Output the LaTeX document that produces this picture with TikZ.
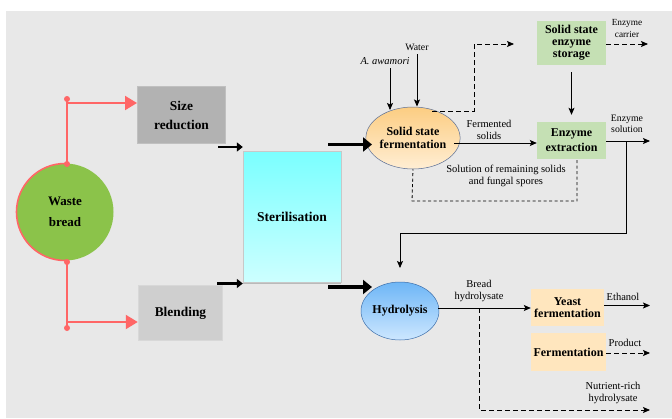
\documentclass[tikz,border=0pt]{standalone}
\usepackage{fontspec}
\setmainfont{Liberation Serif}
\newfontfamily\tnr{Liberation Serif}
\usetikzlibrary{arrows.meta,shapes.geometric,shadows}
\definecolor{bg}{RGB}{232,232,232}
\definecolor{redl}{RGB}{255,102,102}
\definecolor{greenc}{RGB}{139,195,74}
\definecolor{grayA}{RGB}{178,178,178}
\definecolor{grayB}{RGB}{207,207,207}
\definecolor{greenbox}{RGB}{197,224,180}
\definecolor{peach}{RGB}{255,230,190}
\tikzset{
  every node/.append style={font=\tnr},
  bx/.style={rectangle, align=center, inner sep=0pt, font=\tnr\bfseries\fontsize{12}{12.5}\selectfont},
  lbl/.style={align=center, inner sep=0pt, font=\tnr\fontsize{10.5}{12}\selectfont},
  slbl/.style={align=center, inner sep=0pt, font=\tnr\fontsize{9.8}{11.5}\selectfont},
  redarr/.style={draw=redl, line width=2pt, -{Triangle[length=12pt,width=14pt]}},
  reddot/.style={circle, fill=redl, inner sep=0pt, minimum size=6pt},
  arr/.style={draw=black, line width=0.8pt, -{Stealth[length=7pt,width=6pt,inset=1.5pt]}},
  darr/.style={arr, dashed, dash pattern=on 5pt off 3pt},
  medarr/.style={draw=black, line width=2.4pt, -{Triangle[length=6pt,width=9pt]}},
  bigarr/.style={draw=black, line width=3.6pt, -{Triangle[length=9pt,width=14pt]}},
}
\begin{document}
\begin{tikzpicture}[x=1pt,y=-1pt]
\useasboundingbox (0,0) rectangle (672,418);
\fill[white] (0,0) rectangle (672,418);
\fill[bg] (6,11) rectangle (672,418);

% nodes
\node[circle, fill=greenc, minimum size=97pt, inner sep=0pt, align=center,
      font=\tnr\bfseries\fontsize{13}{21}\selectfont] (wb) at (65,212) {Waste\\bread};
\begin{scope}
  \clip (10,150) rectangle (66,280);
  \draw[redl, line width=1.6pt] (65,212) circle[radius=48.5pt];
\end{scope}

\node[bx, fill=grayA, draw={rgb,255:red,192;green,192;blue,192}, line width=1pt,
      minimum width=88pt, minimum height=57pt, font=\tnr\bfseries\fontsize{13.4}{19}\selectfont]
      (sr) at (181.5,115) {Size\\reduction};
\node[bx, fill=grayB, draw={rgb,255:red,216;green,216;blue,216}, line width=1.5pt,
      minimum width=84pt, minimum height=55pt, font=\tnr\bfseries\fontsize{13.4}{16}\selectfont]
      (bl) at (180.5,313) {Blending};
\node[bx, top color={rgb,255:red,122;green,255;blue,255}, bottom color={rgb,255:red,205;green,255;blue,255},
      draw={rgb,255:red,200;green,200;blue,200}, line width=0.4pt,
      drop shadow={opacity=0.45, shadow xshift=0.3pt, shadow yshift=-1.5pt},
      minimum width=98pt, minimum height=131pt, font=\tnr\bfseries\fontsize{13.5}{16}\selectfont]
      (st) at (292,216.5) {Sterilisation};

\node[ellipse, draw={rgb,255:red,90;green,110;blue,150}, line width=0.5pt,
      top color={rgb,255:red,252;green,205;blue,130}, bottom color={rgb,255:red,255;green,238;blue,212},
      minimum width=82pt, minimum height=62pt, inner sep=0pt, align=center,
      font=\tnr\bfseries\fontsize{12}{12.5}\selectfont] (ssf) at (413,138) {Solid state\\fermentation};
\node[ellipse, draw={rgb,255:red,60;green,110;blue,170}, line width=0.5pt,
      top color={rgb,255:red,110;green,182;blue,246}, bottom color={rgb,255:red,205;green,231;blue,255},
      minimum width=76pt, minimum height=58pt, inner sep=0pt, align=center,
      font=\tnr\bfseries\fontsize{12}{12.5}\selectfont] (hy) at (400,311) {Hydrolysis};

\node[bx, fill=greenbox, minimum width=69pt, minimum height=44pt,
      font=\tnr\bfseries\fontsize{12}{12}\selectfont] (sses) at (571.5,43) {Solid state\\enzyme\\storage};
\node[bx, fill=greenbox, minimum width=69pt, minimum height=37pt,
      font=\tnr\bfseries\fontsize{12}{15}\selectfont] (ee) at (571.5,140.5) {Enzyme\\extraction};
\node[bx, fill=peach, minimum width=73pt, minimum height=37pt,
      font=\tnr\bfseries\fontsize{12}{12.5}\selectfont] (yf) at (567.5,307.5) {Yeast\\fermentation};
\node[bx, fill=peach, minimum width=75pt, minimum height=38pt] (fe) at (568.5,352) {Fermentation};

% labels
\node[lbl, font=\tnr\itshape\fontsize{10.5}{12}\selectfont] (awa) at (385,61) {A. awamori};
\node[slbl] (wat) at (417,47) {Water};
\node[lbl] (fsl) at (489,130) {Fermented\\solids};
\node[lbl] (soll) at (506,176) {Solution of remaining solids\\and fungal spores};
\node[slbl, font=\tnr\fontsize{9.3}{11.5}\selectfont] (ecl) at (627,28.5) {Enzyme\\carrier};
\node[slbl] (esl) at (627,124) {Enzyme\\solution};
\node[lbl] (bhl) at (479,290.5) {Bread\\hydrolysate};
\node[lbl] (ethl) at (623,297) {Ethanol};
\node[lbl] (prl) at (625,343) {Product};
\node[lbl] (nrl) at (613,393) {Nutrient-rich\\hydrolysate};

% red connectors
\node[reddot] (dt1) at (67,99) {};
\node[reddot] (dt2) at (67,164) {};
\node[reddot] (dt3) at (67,262) {};
\node[reddot] (dt4) at (67,328) {};
\coordinate (r1) at (67,103);
\coordinate (r2) at (67,322);
\draw[redl, line width=2pt] (dt2.center) -- (dt1.center);
\draw[redl, line width=2pt] (dt3.center) -- (dt4.center);
\draw[redarr] (r1) -- (r1 -| sr.west);
\draw[redarr] (r2) -- (r2 -| bl.west);

% arrows into sterilisation
\coordinate (s1) at (218,147);
\coordinate (s2) at (217,283.5);
\draw[medarr] (s1) -- (s1 -| st.west);
\draw[medarr] (s2) -- (s2 -| st.west);

% thick arrows out of sterilisation
\coordinate (t1) at (328,144.5);
\coordinate (t1e) at (372,144.5);
\coordinate (t2) at (328,287);
\coordinate (t2e) at (372,287);
\draw[bigarr] (t1) -- (t1e);
\draw[bigarr] (t2) -- (t2e);

% inputs to SSF
\coordinate (aw1) at (390,68);
\coordinate (aw2) at (390,110);
\coordinate (wa1) at (417,54);
\coordinate (wa2) at (417,106.5);
\draw[arr] (aw1) -- (aw2);
\draw[arr] (wa1) -- (wa2);

% dashed SSF -> storage
\coordinate (d1) at (432,111);
\coordinate (d2) at (474,111);
\coordinate (d3) at (474,44);
\coordinate (d4) at (514,44);
\draw[darr] (d1) -- (d2) -- (d3) -- (d4);

% storage -> carrier
\coordinate (ec1) at (648,44);
\draw[darr] (sses.east |- ec1) -- (ec1);

% storage -> extraction
\draw[arr, shorten <=7pt, shorten >=7pt] (sses.south) -- (ee.north);

% fermented solids
\coordinate (f1) at (454,143);
\draw[arr] (f1) -- (f1 -| ee.west);

% enzyme solution
\coordinate (es1) at (650,141);
\coordinate (es2) at (626,141);
\coordinate (es3) at (626,233);
\coordinate (es4) at (400,233);
\coordinate (es5) at (400,268);
\draw[arr] (ee.east |- es1) -- (es1);
\draw[arr] (es2) -- (es3) -- (es4) -- (es5);

% dashed extraction -> SSF loop
\coordinate (l1) at (577,160);
\coordinate (l2) at (577,201);
\coordinate (l3) at (412,201);
\draw[dashed, dash pattern=on 3pt off 2.5pt, line width=0.8pt] (l1) -- (l2) -- (l3) -- (ssf.south);

% hydrolysis outputs
\coordinate (h1) at (438,308);
\draw[arr] (h1) -- (h1 -| yf.west);
\coordinate (h2) at (479,308);
\coordinate (h3) at (479,410);
\coordinate (h4) at (650,410);
\draw[darr] (h2) -- (h3) -- (h4);

\coordinate (et1) at (650,305.5);
\draw[arr] (yf.east |- et1) -- (et1);
\coordinate (pr1) at (650,353);
\draw[darr] (fe.east |- pr1) -- (pr1);
\end{tikzpicture}
\end{document}
